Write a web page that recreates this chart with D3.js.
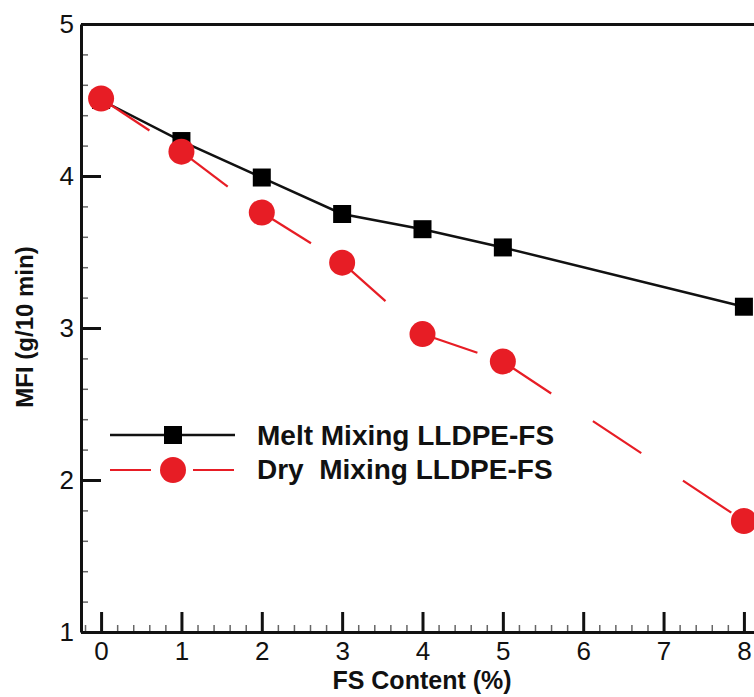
<!DOCTYPE html>
<html>
<head>
<meta charset="utf-8">
<script src="https://cdn.jsdelivr.net/npm/d3@7"></script>
<style>
  html, body { margin: 0; padding: 0; background: #fff; }
  svg { display: block; }
  text { font-family: Arial, "Liberation Sans", Helvetica, sans-serif; }
</style>
</head>
<body>
<svg id="chart" width="754" height="697"></svg>
<script>
// ---- data ----
const fsContent = [0, 1, 2, 3, 4, 5, 8];
const meltMixing = [4.50, 4.23, 3.99, 3.75, 3.65, 3.53, 3.14];
const dryMixing  = [4.51, 4.16, 3.76, 3.43, 2.96, 2.78, 1.73];
const xTickLabels = [0, 1, 2, 3, 4, 5, 6, 7, 8];
const yTickLabels = [1, 2, 3, 4, 5];
const seriesNames = ["Melt Mixing LLDPE-FS", "Dry  Mixing LLDPE-FS"];
const xTitle = "FS Content (%)";
const yTitle = "MFI (g/10 min)";

const svg = d3.select("#chart");
const x = d3.scaleLinear().domain([-0.25, 8.25]).range([81, 764]);
const y = d3.scaleLinear().domain([1, 5]).range([632, 24]);

const red = "#e71d25";

// minor ticks
const xMinor = d3.range(-0.2, 8.25, 0.2).map(v => +v.toFixed(2)).filter(v => !Number.isInteger(v));
const yMinor = d3.range(1, 5.0001, 0.2).map(v => +v.toFixed(2)).filter(v => !Number.isInteger(v));

const gxMinor = svg.append("g").attr("transform", `translate(0,${y(1)})`)
  .call(d3.axisBottom(x).tickValues(xMinor).tickSize(-7).tickSizeOuter(0).tickFormat(""));
gxMinor.select(".domain").remove();
gxMinor.selectAll(".tick line").attr("stroke", "#666").attr("stroke-width", 1.5);

const gyMinor = svg.append("g").attr("transform", `translate(${x(-0.25)},0)`)
  .call(d3.axisLeft(y).tickValues(yMinor).tickSize(-7).tickSizeOuter(0).tickFormat(""));
gyMinor.select(".domain").remove();
gyMinor.selectAll(".tick line").attr("stroke", "#666").attr("stroke-width", 1.5);

// major axes
const gx = svg.append("g").attr("transform", `translate(0,${y(1)})`)
  .call(d3.axisBottom(x).tickValues(xTickLabels).tickSize(-20).tickSizeOuter(0).tickPadding(10).tickFormat(d3.format("d")));
gx.select(".domain").attr("stroke", "#111").attr("stroke-width", 3);
gx.selectAll(".tick line").attr("stroke", "#111").attr("stroke-width", 3);
gx.selectAll(".tick text").attr("font-size", 26).attr("fill", "#111");

const gy = svg.append("g").attr("transform", `translate(${x(-0.25)},0)`)
  .call(d3.axisLeft(y).tickValues(yTickLabels).tickSize(-20).tickSizeOuter(0).tickPadding(7).tickFormat(d3.format("d")));
gy.select(".domain").attr("stroke", "#111").attr("stroke-width", 3);
gy.selectAll(".tick line").attr("stroke", "#111").attr("stroke-width", 3);
gy.selectAll(".tick text").attr("font-size", 26).attr("fill", "#111");

// top frame line
const gTop = svg.append("g").attr("transform", `translate(0,${y(5)})`)
  .call(d3.axisTop(x).tickValues([]).tickSizeOuter(0));
gTop.select(".domain").attr("stroke", "#111").attr("stroke-width", 3);

// axis titles
svg.append("text").attr("x", 422).attr("y", 689).attr("text-anchor", "middle")
  .attr("font-size", 25).attr("font-weight", "bold").attr("fill", "#111").text(xTitle);
svg.append("text").attr("transform", `translate(33,327) rotate(-90)`).attr("text-anchor", "middle")
  .attr("font-size", 24).attr("font-weight", "bold").attr("fill", "#111").text(yTitle);

// series
const melt = fsContent.map((d, i) => ({ x: d, y: meltMixing[i] }));
const dry = fsContent.map((d, i) => ({ x: d, y: dryMixing[i] }));
const line = d3.line().x(d => x(d.x)).y(d => y(d.y));

svg.append("path").datum(melt).attr("d", line)
  .attr("fill", "none").attr("stroke", "#111").attr("stroke-width", 2.5);
svg.selectAll(".sq").data(melt).enter().append("rect")
  .attr("x", d => x(d.x) - 9).attr("y", d => y(d.y) - 9)
  .attr("width", 18).attr("height", 18).attr("fill", "#000");

// dashed red line drawn segment by segment (pattern restarts at each point)
const segs = d3.pairs(dry);
svg.selectAll(".seg").data(segs).enter().append("path")
  .attr("d", d => line(d))
  .attr("fill", "none").attr("stroke", red).attr("stroke-width", 2.2)
  .attr("stroke-dasharray", "58,50");
svg.selectAll(".ci").data(dry).enter().append("circle")
  .attr("cx", d => x(d.x)).attr("cy", d => y(d.y)).attr("r", 13).attr("fill", red);

// legend
const lg = svg.append("g");
lg.append("line").attr("x1", 110).attr("x2", 235).attr("y1", 435).attr("y2", 435)
  .attr("stroke", "#111").attr("stroke-width", 2.5);
lg.append("rect").attr("x", 173 - 9).attr("y", 435 - 9).attr("width", 18).attr("height", 18).attr("fill", "#000");
lg.append("text").attr("x", 257).attr("y", 445).attr("font-size", 28).attr("font-weight", "bold")
  .attr("fill", "#111").attr("xml:space", "preserve").style("white-space", "pre").text(seriesNames[0]);

lg.append("line").attr("x1", 110).attr("x2", 235).attr("y1", 470).attr("y2", 470)
  .attr("stroke", red).attr("stroke-width", 2.2).attr("stroke-dasharray", "41,42");
lg.append("circle").attr("cx", 173).attr("cy", 470).attr("r", 13).attr("fill", red);
lg.append("text").attr("x", 257).attr("y", 479).attr("font-size", 28).attr("font-weight", "bold")
  .attr("fill", "#111").attr("xml:space", "preserve").style("white-space", "pre").text(seriesNames[1]);
</script>
</body>
</html>
